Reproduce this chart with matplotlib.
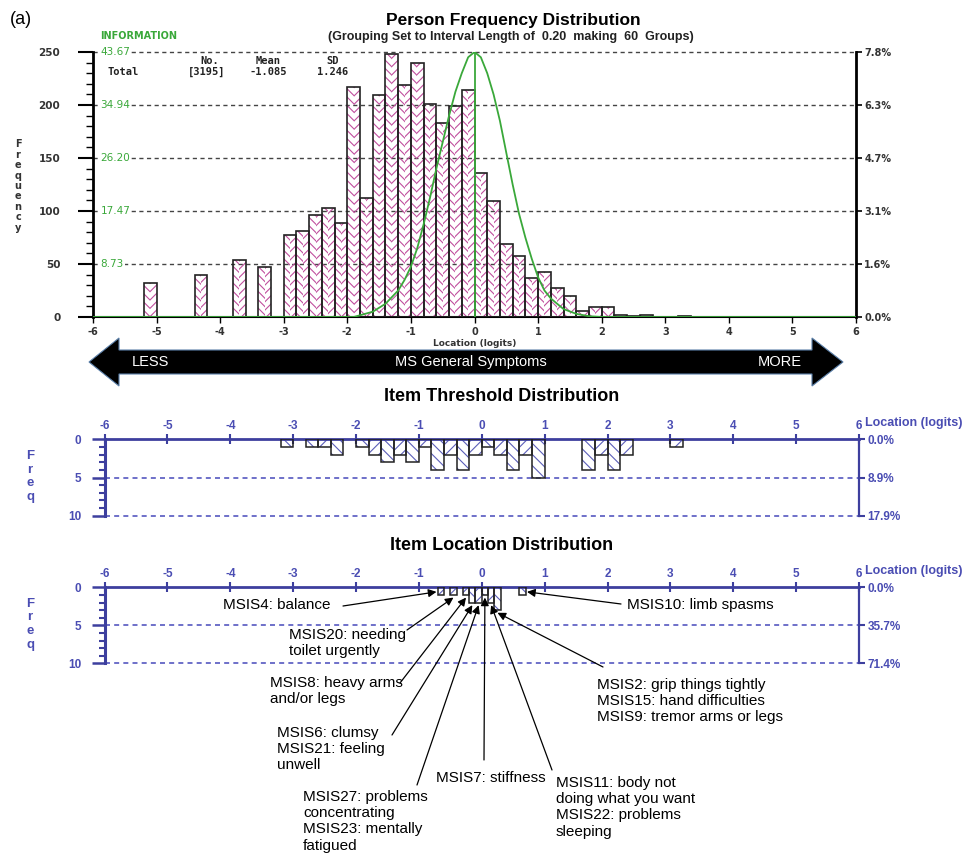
import numpy as np
import matplotlib.pyplot as plt
from matplotlib.patches import Polygon

W, H = 972, 858

# person measures in 0.2 logit groups (left edge of group, count)
person_left = [-5.2, -4.4, -3.8, -3.4,
               -3.0, -2.8, -2.6, -2.4, -2.2, -2.0, -1.8, -1.6, -1.4, -1.2,
               -1.0, -0.8, -0.6, -0.4, -0.2,
               0.0, 0.2, 0.4, 0.6, 0.8, 1.0, 1.2, 1.4, 1.6, 1.8, 2.0, 2.2, 2.4, 2.6,
               3.2]
person_count = [32, 40, 54, 47,
                77, 81, 96, 103, 89, 217, 112, 209, 248, 219,
                240, 201, 183, 199, 214,
                136, 109, 69, 58, 37, 42, 27, 20, 6, 9, 9, 2, 1, 2,
                1]
n_persons = 3195
person_mean = -1.085
person_sd = 1.246

# test information function
info_x = [-6.0, -1.9, -1.6, -1.4, -1.2, -1.1, -1.0, -0.9, -0.8, -0.7, -0.6, -0.5, -0.4,
          -0.3, -0.2, -0.1, 0.0, 0.1, 0.2, 0.3, 0.4, 0.5, 0.6, 0.7, 0.8, 0.9, 1.0,
          1.1, 1.2, 1.4, 1.6, 1.8, 2.0, 6.0]
info_y = [0.0, 0.0, 0.87, 2.18, 4.37, 6.11, 8.30, 11.35, 15.28, 19.65, 24.45, 28.82, 33.19,
          37.12, 40.18, 42.80, 43.67, 42.80, 40.18, 36.68, 32.32, 27.07, 21.84, 17.03, 13.10,
          9.61, 6.55, 4.37, 3.06, 1.31, 0.52, 0.13, 0.0, 0.0]
info_max = 43.67

# item thresholds in 0.2 logit groups
thr_left = [-3.2, -2.8, -2.6, -2.4, -2.0, -1.8, -1.6, -1.4, -1.2, -1.0, -0.8, -0.6,
            -0.4, -0.2, 0.0, 0.2, 0.4, 0.6, 0.8, 1.6, 1.8, 2.0, 2.2, 3.0]
thr_count = [1, 1, 1, 2, 1, 2, 3, 2, 3, 1, 4, 2, 4, 2, 1, 2, 4, 2, 5, 4, 2, 4, 2, 1]

# item locations in 0.1 logit groups
loc_left = [-0.7, -0.5, -0.3, -0.2, -0.1, 0.0, 0.1, 0.2, 0.6]
loc_count = [1, 1, 1, 2, 2, 1, 2, 3, 1]

# item labels: text, group index, text position, arrow start (pixels)
item_notes = [
    ("MSIS4: balance", 0, (223, 605), (343, 606), 'left'),
    ("MSIS20: needing\ntoilet urgently", 1, (289, 628), (407, 630), 'below'),
    ("MSIS8: heavy arms\nand/or legs", 2, (270, 676), (400, 683), 'below'),
    ("MSIS6: clumsy\nMSIS21: feeling\nunwell", 3, (277, 726), (392, 735), 'below'),
    ("MSIS27: problems\nconcentrating\nMSIS23: mentally\nfatigued", 4, (303, 790), (417, 785), 'below'),
    ("MSIS7: stiffness", 5, (436, 771), (484, 760), 'below'),
    ("MSIS11: body not\ndoing what you want\nMSIS22: problems\nsleeping", 6, (556, 776), (552, 770), 'below'),
    ("MSIS2: grip things tightly\nMSIS15: hand difficulties\nMSIS9: tremor arms or legs", 7, (597, 678), (603, 667), 'below'),
    ("MSIS10: limb spasms", 8, (627, 605), (621, 604), 'right'),
]

pink = '#c0509e'
green = '#3aa83a'
blue = '#3d3f9e'
blue_txt = '#4a4db3'
dark = '#333333'

plt.rcParams['hatch.linewidth'] = 0.8
plt.rcParams['axes.unicode_minus'] = False
plt.rcParams['font.family'] = ['Liberation Sans', 'DejaVu Sans']

fig = plt.figure(figsize=(W / 100, H / 100), dpi=100)


def px_axes(l, t, r, b):
    return fig.add_axes([l / W, 1 - b / H, (r - l) / W, (b - t) / H])


def ftext(x, y, s, **kw):
    return fig.text(x / W, 1 - y / H, s, **kw)


# ---- person frequency distribution ----
ax = px_axes(93, 52, 856, 317)
ax.set_xlim(-6, 6)
ax.set_ylim(0, 250)
pl = np.array(person_left)
pc = np.array(person_count)
ax.bar(pl, pc, width=0.1, align='edge', fill=False, hatch='\\\\\\\\', edgecolor=pink, lw=0, zorder=2)
ax.bar(pl + 0.1, pc, width=0.1, align='edge', fill=False, hatch='////', edgecolor=pink, lw=0, zorder=2)
ax.bar(pl, pc, width=0.2, align='edge', fill=False, edgecolor='#222222', lw=1.2, zorder=3)

for v in range(50, 251, 50):
    ax.axhline(v, color='#444444', ls=(0, (3, 2.5)), lw=1.0, zorder=1, clip_on=False)
    ax.text(-5.88, v, f'{info_max * v / 250:.2f}', color=green, fontsize=7.5, family='DejaVu Sans',
            ha='left', va='center', zorder=4,
            bbox=dict(facecolor='white', edgecolor='none', pad=0.5))

scale = 250 / info_max
ax.plot(info_x, np.array(info_y) * scale, color=green, lw=1.3, zorder=5)
ax.plot([0, 0], [0, info_max * scale], color=green, lw=1.3, zorder=5)

for s in ['left', 'right']:
    ax.spines[s].set_linewidth(2)
ax.spines['bottom'].set_linewidth(1.5)
ax.spines['top'].set_visible(False)
ax.set_yticks(range(0, 251, 50))
ax.set_yticks(range(0, 251, 10), minor=True)
ax.set_xticks(range(-6, 7))
ax.tick_params(axis='y', which='major', direction='out', length=10.5, width=1.5, pad=13,
               labelsize=7.5, labelcolor=dark)
ax.tick_params(axis='y', which='minor', direction='out', length=5, width=1)
ax.tick_params(axis='x', direction='out', length=4, width=1, pad=3, labelsize=7, labelcolor=dark)
for t in ax.get_yticklabels() + ax.get_xticklabels():
    t.set_fontweight('bold')
    t.set_family('DejaVu Sans')

rx = ax.twinx()
rx.set_ylim(0, 250)
rx.set_yticks(range(0, 251, 50))
rx.set_yticklabels([f'{v / n_persons * 100:.1f}%' for v in range(0, 251, 50)],
                   fontsize=7, fontweight='bold', family='DejaVu Sans', color=dark)
rx.tick_params(axis='y', direction='out', length=4, width=1.2, pad=2)
for s in rx.spines.values():
    s.set_visible(False)

ftext(10, 20, '(a)', fontsize=13, va='center')
ftext(513, 20, 'Person Frequency Distribution', fontsize=12.5, fontweight='bold', ha='center', va='center')
ftext(511, 37, '(Grouping Set to Interval Length of  0.20  making  60  Groups)',
      fontsize=9, fontweight='bold', ha='center', va='center', color='#222222')
ftext(100, 36, 'INFORMATION', fontsize=7, fontweight='bold', color=green, va='center',
      family='DejaVu Sans')
ftext(18, 186, '\n'.join('Frequency'), fontsize=7, fontweight='bold', family='DejaVu Sans',
      ha='center', va='center', linespacing=1.05, color=dark)

mono = dict(family='DejaVu Sans Mono', fontsize=7.5, fontweight='bold', va='center', color='#222222')
ftext(210, 61, 'No.', ha='center', **mono)
ftext(268, 61, 'Mean', ha='center', **mono)
ftext(333, 61, 'SD', ha='center', **mono)
ftext(108, 72, 'Total', ha='left', **mono)
ftext(207, 72, f'[{n_persons}]', ha='center', **mono)
ftext(268, 72, f'{person_mean:.3f}', ha='center', **mono)
ftext(333, 72, f'{person_sd:.3f}', ha='center', **mono)
ftext(475, 344, 'Location (logits)', fontsize=6.5, fontweight='bold', ha='center', va='center',
      family='DejaVu Sans', color=dark)

# ---- direction arrow ----
arrow_px = [(89, 362), (119, 338), (119, 350), (812, 350), (812, 338), (843, 362),
            (812, 386), (812, 374), (119, 374), (119, 386)]
fig.add_artist(Polygon([(x / W, 1 - y / H) for x, y in arrow_px], closed=True,
                       transform=fig.transFigure, facecolor='black', edgecolor='#5a7fa8', lw=0.8))
ftext(150, 362, 'LESS', color='white', fontsize=10.5, ha='center', va='center')
ftext(471, 362, 'MS General Symptoms', color='white', fontsize=10.5, ha='center', va='center')
ftext(780, 362, 'MORE', color='white', fontsize=10.5, ha='center', va='center')


# ---- item threshold / item location panels ----
def item_panel(top, bottom, left, count, width, title, title_y):
    a = px_axes(104.5, top, 859, bottom)
    a.set_xlim(-6, 6)
    a.set_ylim(10, 0)
    left = np.array(left)
    count = np.array(count)
    for l, c in zip(left, count):
        h = '\\\\\\' if int(round(l / width)) % 2 == 0 else '///'
        a.bar(l, c, width=width, align='edge', fill=False, hatch=h, edgecolor='#5b5eb8', lw=0, zorder=2)
    a.bar(left, count, width=width, align='edge', fill=False, edgecolor='#222222', lw=1.1, zorder=3)
    for v in (5, 10):
        a.axhline(v, color='#5558c0', ls=(0, (3, 2.5)), lw=1.2, zorder=1, clip_on=False)
    a.spines['bottom'].set_visible(False)
    a.spines['top'].set_linewidth(2)
    a.spines['left'].set_linewidth(2.2)
    a.spines['right'].set_linewidth(1.6)
    for s in a.spines.values():
        s.set_color(blue)
    a.xaxis.tick_top()
    a.set_xticks(range(-6, 7))
    a.tick_params(axis='x', direction='inout', length=7, width=1.5, color=blue, pad=2,
                  labelsize=8.5, labelcolor=blue_txt)
    a.set_yticks([0, 5, 10])
    a.set_yticks(range(0, 11), minor=True)
    a.tick_params(axis='y', which='major', direction='out', length=9.5, width=1.8, color=blue,
                  pad=7, labelsize=8.5, labelcolor=blue_txt)
    a.tick_params(axis='y', which='minor', direction='out', length=4.5, width=1.5, color=blue)
    for t in a.get_xticklabels() + a.get_yticklabels():
        t.set_fontweight('bold')
    r = a.twinx()
    r.set_ylim(10, 0)
    r.set_yticks([0, 5, 10])
    total = count.sum()
    r.set_yticklabels([f'{v / total * 100:.1f}%' for v in (0, 5, 10)], fontsize=8.5,
                      fontweight='bold', color=blue_txt)
    r.tick_params(axis='y', direction='out', length=4, width=1.5, color=blue, pad=2)
    for s in r.spines.values():
        s.set_visible(False)
    ftext(865, top - 16, 'Location (logits)', color=blue_txt, fontsize=9, fontweight='bold',
          va='center')
    ftext(30, (top + bottom) / 2 - 1, '\n'.join('Freq'), color=blue_txt, fontsize=9.5,
          fontweight='bold', ha='center', va='center', linespacing=1.2)
    ftext(502, title_y, title, fontsize=13, fontweight='bold', ha='center', va='center')
    return a


item_panel(439.3, 515.7, thr_left, thr_count, 0.2, 'Item Threshold Distribution', 397)
lax = item_panel(587.3, 663.3, loc_left, loc_count, 0.1, 'Item Location Distribution', 545)

note_font = dict(family=['Liberation Sans Narrow', 'Liberation Sans'], fontsize=11)
for label, k, (tx, ty), (sx, sy), side in item_notes:
    l = loc_left[k]
    c = loc_count[k]
    if side == 'left':
        tip = (l - 0.02, c * 0.6)
        ftext(tx, ty, label, va='center', **note_font)
    elif side == 'right':
        tip = (l + 0.12, c * 0.6)
        ftext(tx, ty, label, va='center', **note_font)
    else:
        tip = (l + 0.05, c + 0.35)
        ftext(tx, ty, label, va='top', linespacing=1.2, **note_font)
    lax.annotate('', xy=tip, xytext=(sx, H - sy), textcoords='figure pixels',
                 annotation_clip=False,
                 arrowprops=dict(arrowstyle='-|>', color='black', lw=0.9,
                                 mutation_scale=12, shrinkA=0, shrinkB=0))

fig.savefig('out.png', dpi=100)
